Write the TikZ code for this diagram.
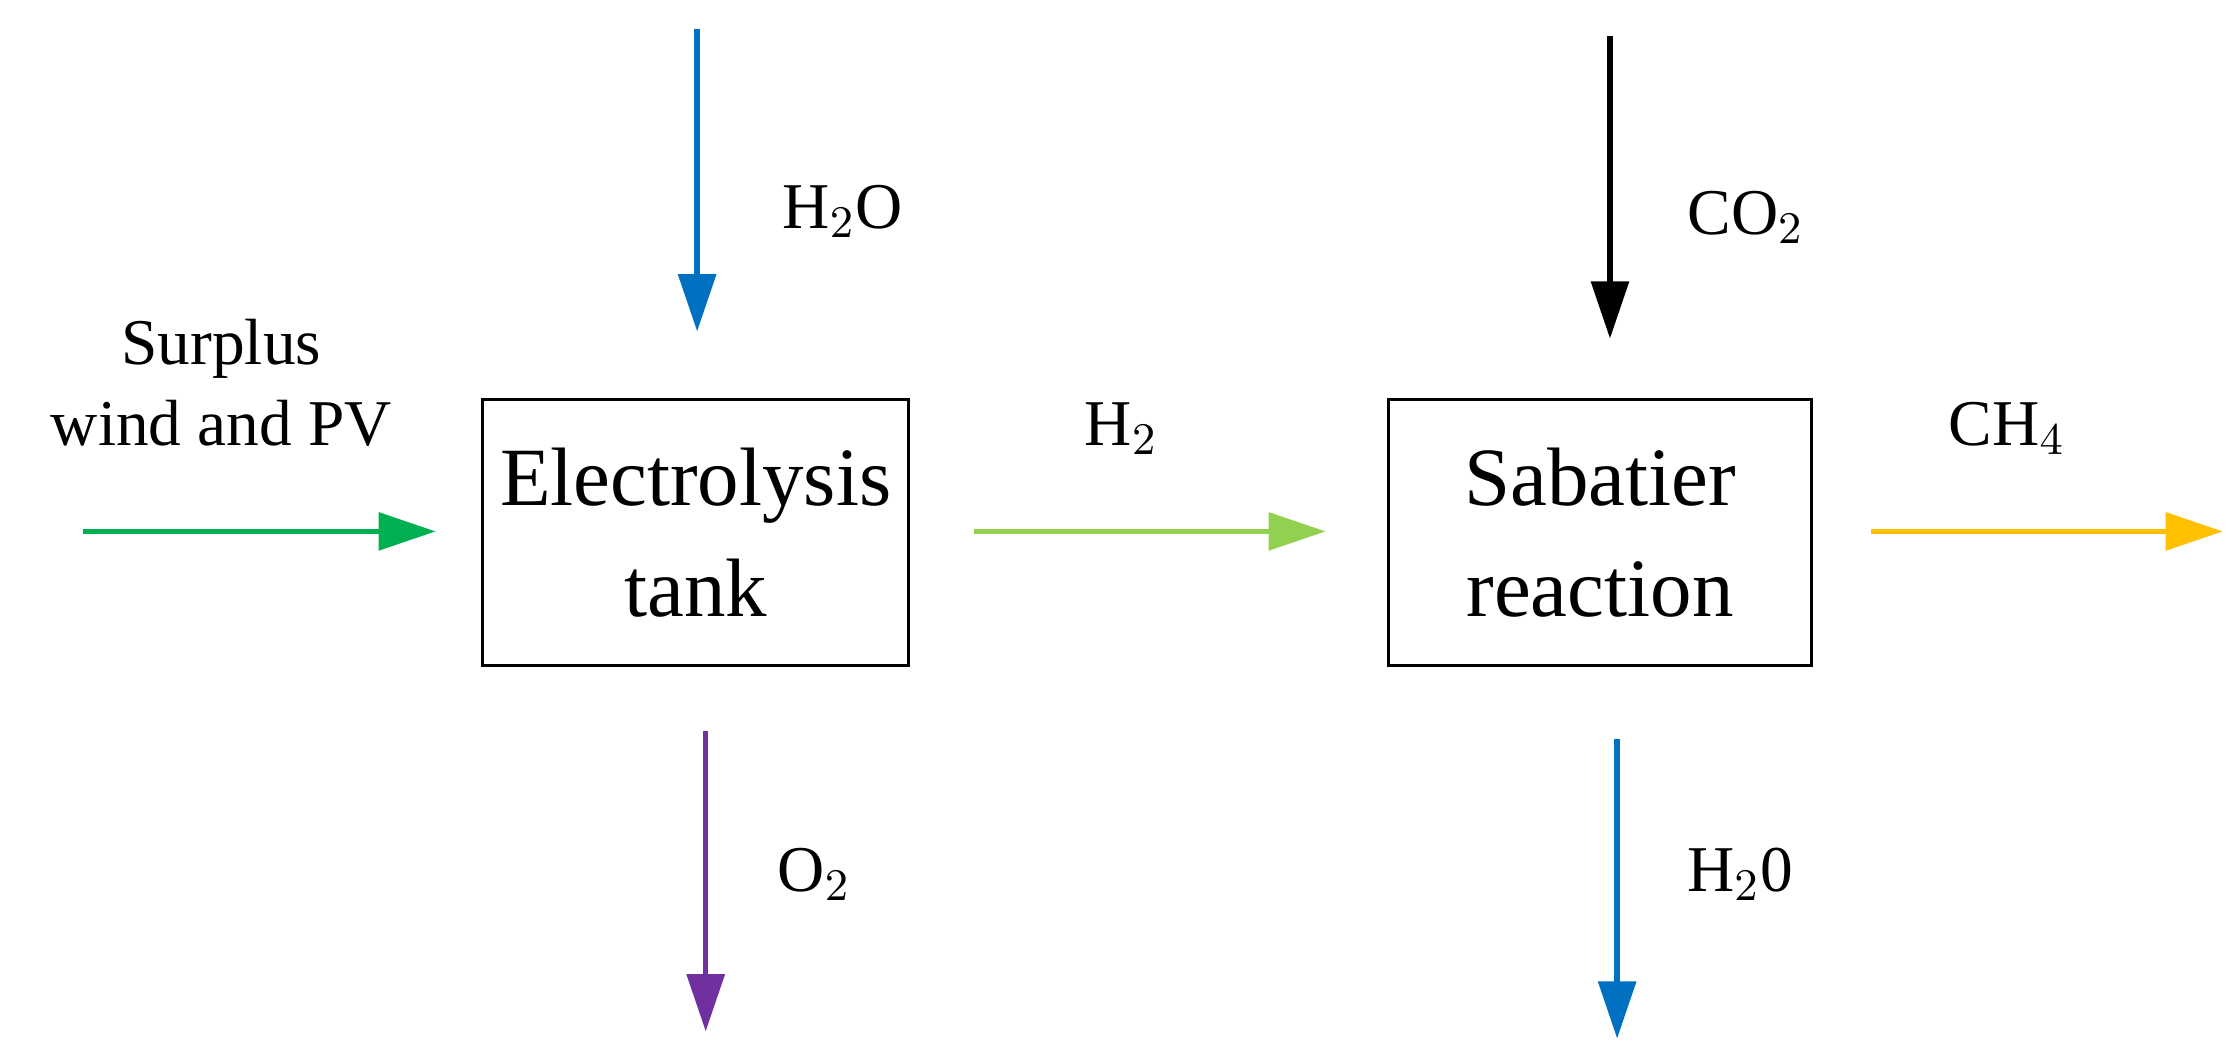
\documentclass[tikz,border=0pt]{standalone}
\usepackage{fontspec}
\setmainfont{Liberation Serif}
\usetikzlibrary{arrows.meta}
\begin{document}
\begin{tikzpicture}[x=0.01cm,y=-0.01cm,
  box/.style={draw,line width=0.6pt,minimum width=298\pgflinewidth,inner sep=0pt,align=center,font=\fontsize{16.5}{20}\selectfont},
  flow/.style={line width=1.1pt,-{Triangle[length=0.4cm,width=0.26cm]}},
  lab/.style={font=\fontsize{13}{16}\selectfont,align=center}]
\useasboundingbox (0,0) rectangle (1568,743);
\node[box,minimum width=2.98cm,minimum height=1.86cm] (e) at (487,373) {Electrolysis\\[2pt]tank};
\node[box,minimum width=2.96cm,minimum height=1.86cm] (s) at (1120,373) {Sabatier\\[2pt]reaction};
\coordinate (a0) at (58,372); \coordinate (a1) at (305,372);
\coordinate (b0) at (682,372); \coordinate (b1) at (928,372);
\coordinate (c0) at (1310,372); \coordinate (c1) at (1556,372);
\coordinate (d0) at (488,20); \coordinate (d1) at (488,232);
\coordinate (f0) at (1127,25); \coordinate (f1) at (1127,237);
\coordinate (g0) at (494,512); \coordinate (g1) at (494,722);
\coordinate (h0) at (1132,517); \coordinate (h1) at (1132,727);
\draw[flow,color={rgb,255:red,0;green,176;blue,80}] (a0) -- (a1);
\draw[flow,color={rgb,255:red,146;green,208;blue,80}] (b0) -- (b1);
\draw[flow,color={rgb,255:red,255;green,192;blue,0}] (c0) -- (c1);
\draw[flow,color={rgb,255:red,0;green,112;blue,192}] (d0) -- (d1);
\draw[flow,black] (f0) -- (f1);
\draw[flow,color={rgb,255:red,112;green,48;blue,160}] (g0) -- (g1);
\draw[flow,color={rgb,255:red,0;green,112;blue,192}] (h0) -- (h1);
\node[lab] (l1) at (155,268) {Surplus\\wind and PV};
\node[lab] (l2) at (590,148) {H$_2$O};
\node[lab] (l3) at (1222,152) {CO$_2$};
\node[lab] (l4) at (785,300) {H$_2$};
\node[lab] (l5) at (1405,300) {CH$_4$};
\node[lab] (l6) at (570,612) {O$_2$};
\node[lab] (l7) at (1218,612) {H$_2$0};
\end{tikzpicture}
\end{document}
